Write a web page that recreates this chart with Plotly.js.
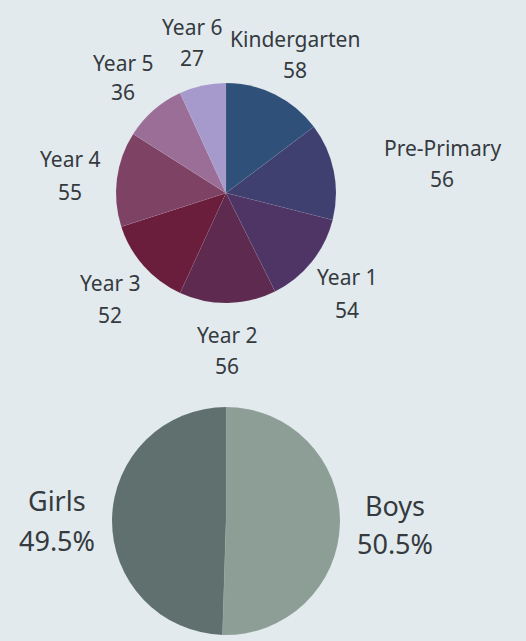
<!DOCTYPE html>
<html>
<head>
<meta charset="utf-8">
<script src="https://cdn.plot.ly/plotly-3.0.1.min.js"></script>
<style>html,body{margin:0;padding:0;background:#e2eaee;}#chart{width:526px;height:641px;}</style>
</head>
<body>
<div id="chart"></div>
<script>
// Data
var gradeLabels = ["Kindergarten", "Pre-Primary", "Year 1", "Year 2", "Year 3", "Year 4", "Year 5", "Year 6"];
var gradeValues = [58, 56, 54, 56, 52, 55, 36, 27];
var genderLabels = ["Boys", "Girls"];
var genderValues = [50.5, 49.5];

// Styles
var gradeColors = ["#2f5079", "#3f3f70", "#4e3566", "#5e2a50", "#6b1d3c", "#7e4264", "#9b6e98", "#a699cb"];
var genderColors = ["#8c9e96", "#5f706e"];

// Label positions (pixels in the 526x641 page): [x, y of name line, y of value line]
var gradePos = [[295, 39, 70], [442, 148, 179], [347, 277, 310], [227, 335, 366],
                [110, 283, 315], [70, 159, 192], [123, 63, 92], [192, 27, 58]];
var genderPos = [[395, 505, 543], [57, 500, 540]];

var W = 526, H = 641;
function px(x) { return x / W; }
function py(y) { return 1 - y / H; }

var FONT = "Noto Sans, Open Sans, sans-serif";
var annotations = [];
function addText(x, y, t, size) {
  annotations.push({
    xref: "paper", yref: "paper", x: px(x), y: py(y), text: t, showarrow: false,
    xanchor: "center", yanchor: "middle",
    font: {family: FONT, size: size, color: "#353a3e"}
  });
}
gradeLabels.forEach(function (l, i) {
  addText(gradePos[i][0], gradePos[i][1], l, 21);
  addText(gradePos[i][0], gradePos[i][2], String(gradeValues[i]), 21);
});
genderLabels.forEach(function (l, i) {
  addText(genderPos[i][0], genderPos[i][1], l, 27);
  addText(genderPos[i][0], genderPos[i][2], genderValues[i].toFixed(1) + "%", 27);
});

var data = [
  {
    type: "pie", labels: gradeLabels, values: gradeValues, sort: false,
    direction: "clockwise", rotation: 0, textinfo: "none", hoverinfo: "label+value",
    marker: {colors: gradeColors, line: {color: "rgba(255,255,255,0.12)", width: 0.5}},
    domain: {x: [px(116), px(336)], y: [py(303), py(83)]}
  },
  {
    type: "pie", labels: genderLabels, values: genderValues, sort: false,
    direction: "clockwise", rotation: 0, textinfo: "none", hoverinfo: "label+percent",
    marker: {colors: genderColors, line: {color: "rgba(255,255,255,0.12)", width: 0.5}},
    domain: {x: [px(112), px(340)], y: [py(635), py(407)]}
  }
];

var layout = {
  width: W, height: H,
  margin: {l: 0, r: 0, t: 0, b: 0},
  paper_bgcolor: "#e2eaee", plot_bgcolor: "#e2eaee",
  showlegend: false,
  annotations: annotations
};

Plotly.newPlot("chart", data, layout, {displayModeBar: false, staticPlot: true});
</script>
</body>
</html>
